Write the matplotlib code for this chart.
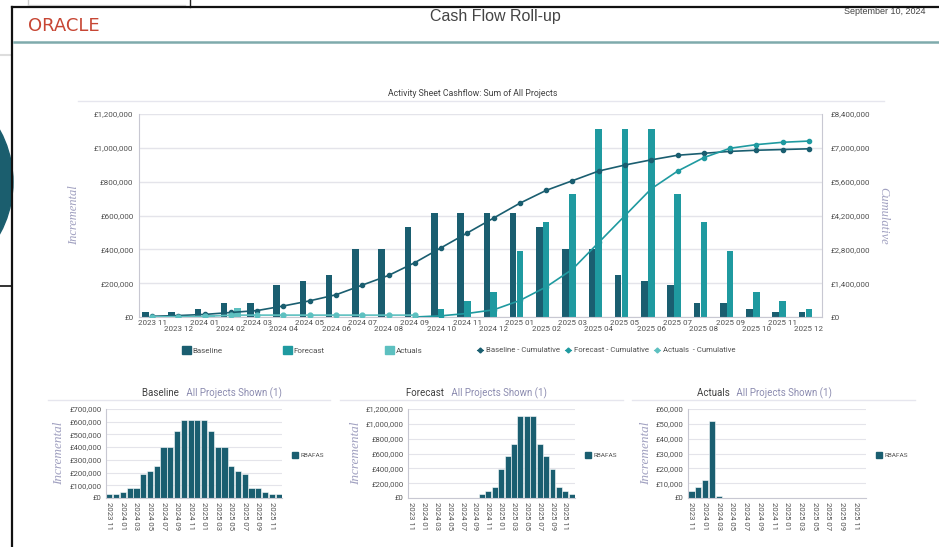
import numpy as np
import matplotlib
matplotlib.use('Agg')
import matplotlib.pyplot as plt
from matplotlib.patches import Ellipse
from matplotlib.lines import Line2D
from matplotlib.patches import Patch
from matplotlib.ticker import FuncFormatter

# data
months = ['2023 11', '2023 12', '2024 01', '2024 02', '2024 03', '2024 04', '2024 05',
          '2024 06', '2024 07', '2024 08', '2024 09', '2024 10', '2024 11', '2024 12',
          '2025 01', '2025 02', '2025 03', '2025 04', '2025 05', '2025 06', '2025 07',
          '2025 08', '2025 09', '2025 10', '2025 11', '2025 12']
baseline = [30000, 30000, 47000, 80000, 80000, 190000, 213000, 250000, 400000, 400000,
            530000, 615000, 615000, 615000, 615000, 530000, 400000, 400000, 250000,
            213000, 190000, 80000, 80000, 47000, 30000, 30000]
forecast = [0, 0, 0, 0, 0, 0, 0, 0, 0, 0, 0, 50000, 97000, 150000, 388000, 560000,
            730000, 1110000, 1110000, 1110000, 730000, 560000, 388000, 150000, 97000, 50000]
actuals = [5000, 7500, 12000, 52000, 1500, 0, 0, 0, 0, 0, 0, 0, 0, 0, 0, 0, 0, 0, 0,
           0, 0, 0, 0, 0, 0, 0]
n_actual_months = 11        # actuals reported up to 2024 09
forecast_start = 10         # forecast cumulative drawn from 2024 09

C_BASE = '#1A5E70'
C_FC = '#1F9AA0'
C_ACT = '#5DC0C0'
C_TXT = '#505050'
C_LAB = '#A0A0C0'
C_GRID = '#E4E4EA'
C_SPINE = '#C8C8D2'

plt.rcParams['font.family'] = ['Roboto', 'DejaVu Sans']

W, H = 939, 547
fig = plt.figure(figsize=(W / 100, H / 100), dpi=100)


def box(x0, y0, x1, y1):
    return [x0 / W, 1 - y1 / H, (x1 - x0) / W, (y1 - y0) / H]


def fx(x):
    return x / W


def fy(y):
    return 1 - y / H


def money(v, pos=None):
    return '£{:,.0f}'.format(v)


# ---- background bits of the screenshot ----
fig.add_artist(Ellipse((fx(-95), fy(182)), 216 / W, 216 / H, color='#1B5E6E',
                       transform=fig.transFigure, zorder=0))
fig.add_artist(Line2D([0, fx(12)], [fy(55), fy(55)], color='#DDDDDD', lw=1.5))
fig.add_artist(Line2D([0, fx(12)], [fy(286), fy(286)], color='#111111', lw=1.2))
fig.add_artist(Line2D([fx(28), fx(28)], [1, fy(5)], color='#CCCCCC', lw=1))
fig.add_artist(Line2D([fx(28), fx(185)], [fy(5), fy(5)], color='#DDDDDD', lw=1))
fig.add_artist(Line2D([fx(190), fx(190)], [1, fy(7)], color='#222222', lw=1))
# page frame
fig.add_artist(Line2D([fx(12), fx(12)], [fy(7), 0], color='#111111', lw=1.6))
fig.add_artist(Line2D([fx(12), 1], [fy(7), fy(7)], color='#111111', lw=1.6))

# ---- header ----
fig.text(fx(28), fy(26), 'ORACLE', color='#C74634', fontsize=13,
         family=['DejaVu Sans'], va='center', ha='left')
fig.text(fx(495), fy(16), 'Cash Flow Roll-up', color='#444444', fontsize=11.5,
         family=['Liberation Sans Narrow', 'Liberation Sans'], ha='center', va='center')
fig.text(fx(925), fy(12), 'September 10, 2024', color='#444444', fontsize=6.5,
         family=['Liberation Sans Narrow', 'Liberation Sans'], ha='right', va='center')
fig.add_artist(Line2D([fx(14), 1], [fy(42), fy(42)], color='#7FAAAC', lw=1.8))

# ---- main chart ----
fig.text(fx(473), fy(93), 'Activity Sheet Cashflow: Sum of All Projects', color='#404040',
         fontsize=6.3, ha='center', va='center')
fig.add_artist(Line2D([fx(78), fx(884)], [fy(101), fy(101)], color='#E6E6EE', lw=1))

ax = fig.add_axes(box(139, 114, 822, 317))
x = np.arange(len(months))
bw = 0.25
ax.bar(x - 0.26, baseline, bw, color=C_BASE, zorder=2)
ax.bar(x, forecast, bw, color=C_FC, zorder=2)
ax.bar(x + 0.26, actuals, bw, color=C_ACT, zorder=2)
ax.set_xlim(-0.5, len(months) - 0.5)
ax.set_ylim(0, 1200000)
ax.set_yticks(np.arange(0, 1200001, 200000))
ax.yaxis.set_major_formatter(FuncFormatter(money))
ax.grid(axis='y', color=C_GRID, lw=1, zorder=0)
ax.set_axisbelow(True)
ax.set_xticks(x)
ax.set_xticklabels([m if i % 2 == 0 else '\n' + m for i, m in enumerate(months)],
                   linespacing=1.05)
ax.tick_params(axis='both', length=0, labelsize=5.8, colors=C_TXT, pad=4)
ax.tick_params(axis='x', pad=2)
for s in ['top', 'right']:
    ax.spines[s].set_visible(False)
for s in ['left', 'bottom']:
    ax.spines[s].set_color(C_SPINE)
ax.set_ylabel('Incremental', family=['Liberation Serif', 'DejaVu Serif'], style='italic',
              color=C_LAB, fontsize=9, labelpad=10)

ax2 = ax.twinx()
ax2.set_ylim(0, 8400000)
ax2.set_yticks(np.arange(0, 8400001, 1400000))
ax2.yaxis.set_major_formatter(FuncFormatter(money))
ax2.tick_params(axis='y', length=0, labelsize=5.8, colors=C_TXT, pad=6)
for s in ['top', 'left', 'bottom']:
    ax2.spines[s].set_visible(False)
ax2.spines['right'].set_color(C_SPINE)
ax2.set_ylabel('Cumulative', family=['Liberation Serif', 'DejaVu Serif'], style='italic',
               color=C_LAB, fontsize=9, rotation=-90, labelpad=14)

base_cum = np.cumsum(baseline)
fc_cum = np.cumsum(forecast)
act_cum = np.cumsum(actuals)
ax2.plot(x, base_cum, color=C_BASE, lw=1.2, marker='o', ms=3, zorder=3)
ax2.plot(x[forecast_start:], fc_cum[forecast_start:], color=C_FC, lw=1.2, marker='o', ms=3,
         zorder=3)
ax2.plot(x[:n_actual_months], act_cum[:n_actual_months], color=C_ACT, lw=1.2, marker='o',
         ms=3.5, zorder=3)

fig.legend(handles=[Patch(color=C_BASE, label='Baseline'),
                    Patch(color=C_FC, label='Forecast'),
                    Patch(color=C_ACT, label='Actuals')],
           loc='center left', bbox_to_anchor=(fx(182), fy(350)), ncol=3,
           frameon=False, fontsize=5.8, handlelength=1.1, handleheight=1.1,
           handletextpad=0.2, columnspacing=7.5, borderpad=0, borderaxespad=0,
           labelcolor=C_TXT)
fig.legend(handles=[Line2D([], [], color=C_BASE, marker='D', ms=2.5, lw=0.8, label='Baseline - Cumulative'),
                    Line2D([], [], color=C_FC, marker='D', ms=2.5, lw=0.8, label='Forecast - Cumulative'),
                    Line2D([], [], color=C_ACT, marker='D', ms=2.5, lw=0.8, label='Actuals  - Cumulative')],
           loc='center left', bbox_to_anchor=(fx(477), fy(350)), ncol=3, frameon=False,
           fontsize=5.6, handlelength=0.8, handletextpad=0.3, columnspacing=0.7,
           borderpad=0, borderaxespad=0, labelcolor=C_TXT)

# ---- small charts ----
small = [
    ('Baseline', baseline, 700000, 100000, (106, 409, 282, 498), (48, 330), 185, 292),
    ('Forecast', forecast, 1200000, 200000, (408, 409, 575, 498), (340, 623), 450, 585),
    ('Actuals', actuals, 60000, 10000, (688, 409, 866, 498), (632, 915), 735, 876),
]
for name, vals, ymax, step, rect, uline, tx, lx in small:
    fig.text(fx(tx) - 0.001, fy(393), name + '  ', color='#404040', fontsize=7,
             ha='right', va='center')
    fig.text(fx(tx) - 0.001, fy(393), ' All Projects Shown (1)', color='#8C8CB0',
             fontsize=7, ha='left', va='center')
    fig.add_artist(Line2D([fx(uline[0]), fx(uline[1])], [fy(400), fy(400)],
                          color='#E6E6EE', lw=1))
    a = fig.add_axes(box(*rect))
    a.bar(x, vals, 0.92, color=C_BASE, edgecolor='white', lw=0.4, zorder=2)
    a.set_xlim(-0.5, len(months) - 0.5)
    a.set_ylim(0, ymax)
    a.set_yticks(np.arange(0, ymax + 1, step))
    a.yaxis.set_major_formatter(FuncFormatter(money))
    a.set_xticks(x[::2])
    a.set_xticklabels(months[::2], rotation=-90)
    a.tick_params(axis='both', length=0, labelsize=5.6, colors=C_TXT, pad=3)
    a.grid(axis='y', color=C_GRID, lw=0.8, zorder=0)
    a.set_axisbelow(True)
    for s in ['top', 'right']:
        a.spines[s].set_visible(False)
    for s in ['left', 'bottom']:
        a.spines[s].set_color(C_SPINE)
    a.set_ylabel('Incremental', family=['Liberation Serif', 'DejaVu Serif'],
                 style='italic', color=C_LAB, fontsize=9.5, labelpad=3)
    fig.legend(handles=[Patch(color=C_BASE, label='RBAFAS')], loc='center left',
               bbox_to_anchor=(fx(lx), fy(455)), frameon=False, fontsize=4.6,
               handlelength=1.0, handleheight=1.2, handletextpad=0.3, borderpad=0,
               borderaxespad=0, labelcolor=C_TXT)

fig.savefig('out.png', dpi=100)
